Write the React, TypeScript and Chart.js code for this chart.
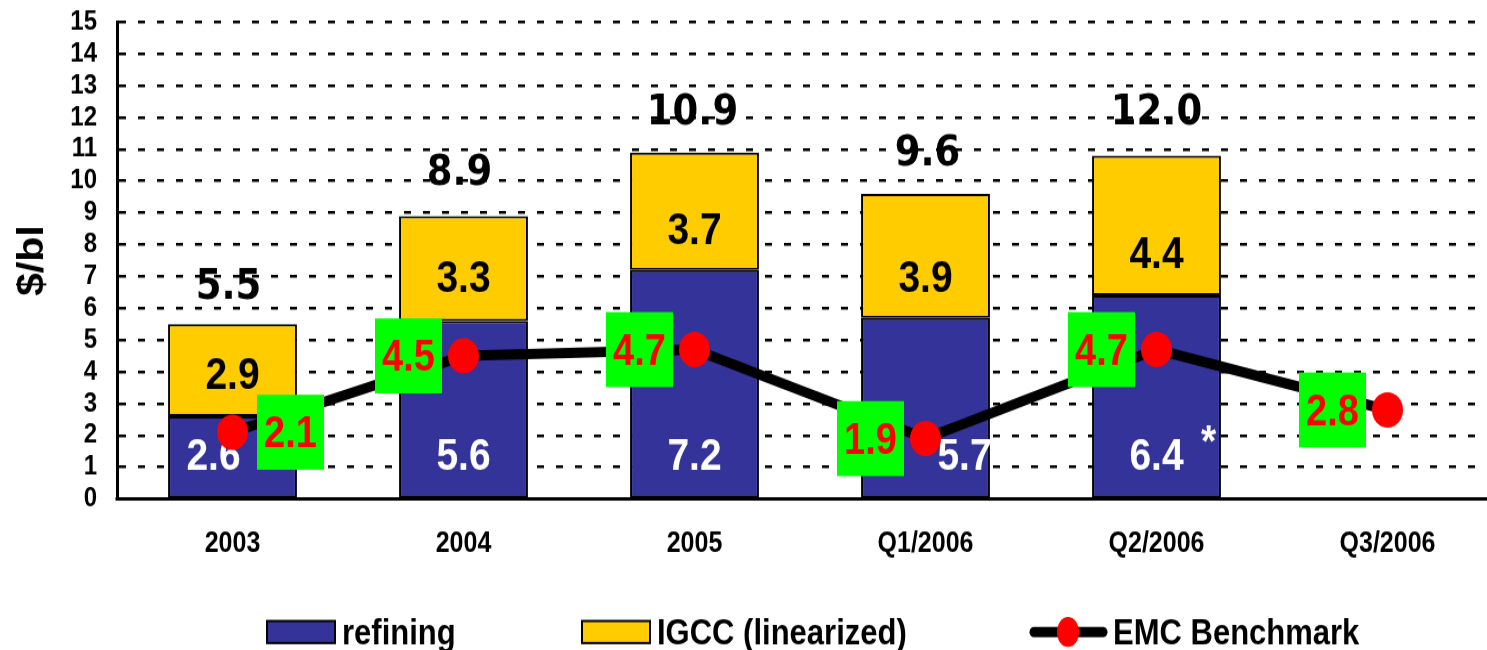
import React, { useEffect, useRef } from 'react';
import { Chart, registerables } from 'chart.js';

Chart.register(...registerables);

// ---------- data ----------
const categories = ['2003', '2004', '2005', 'Q1/2006', 'Q2/2006', 'Q3/2006'];
const refining: (number | null)[] = [2.6, 5.6, 7.2, 5.7, 6.4, null];
const igcc: (number | null)[] = [2.9, 3.3, 3.7, 3.9, 4.4, null];
const emcBenchmark = [2.1, 4.5, 4.7, 1.9, 4.7, 2.8];
const totalLabels = ['5.5', '8.9', '10.9', '9.6', '12.0'];
const seriesNames = ['refining', 'IGCC (linearized)', 'EMC Benchmark'];
const yAxisTitle = '$/bl';
const yMin = 0;
const yMax = 15;
const footnoteMark = '*';

// ---------- layout / style ----------
// The canvas is drawn at a reduced height and stretched vertically by S,
// matching the vertically stretched look of the reference.
const W = 1503;
const H = 650;
const HC = 570;
const S = H / HC;
const BLUE = '#333399';
const YELLOW = '#FFCC00';
const GREEN = '#00FF00';
const RED = '#FF0000';
const FONT = '"Liberation Sans", Arial, sans-serif';
const TOTAL_FONT = '"DejaVu Sans", Verdana, sans-serif';

const refLabelDx = [-19, 0, 0, 39, 0];
const refLabelBaselineValue = 0.9;
const igccLabelBaselineValue = [3.46, 6.5, 8.0, 6.5, 7.26];
const totalDy = [25, 31, 28, 28, 31];
const totalDx = [-4, -4, -2, 2, 0];
const emcBoxDx = [58, -55, -55, -55, -55, -55];

const labelsPlugin = {
  id: 'customLabels',
  beforeDatasetDraw(chart: any, args: any) {
    if (args.index !== 2) return;
    const ctx = chart.ctx;
    const y = chart.scales.y;
    const m0 = chart.getDatasetMeta(0);
    const m1 = chart.getDatasetMeta(1);
    const area = chart.chartArea;
    ctx.save();
    ctx.beginPath();
    ctx.lineWidth = 3;
    ctx.strokeStyle = '#000';
    ctx.moveTo(area.left - 1.5, area.bottom);
    ctx.lineTo(chart.width, area.bottom);
    ctx.stroke();

    ctx.textAlign = 'center';
    ctx.textBaseline = 'alphabetic';
    ctx.font = `bold 39px ${FONT}`;
    refining.forEach((v, i) => {
      if (v == null) return;
      const bar = m0.data[i];
      ctx.fillStyle = '#FFFFFF';
      ctx.fillText(v.toFixed(1), bar.x + refLabelDx[i], y.getPixelForValue(refLabelBaselineValue));
    });
    igcc.forEach((v, i) => {
      if (v == null) return;
      const bar = m1.data[i];
      ctx.fillStyle = '#000000';
      ctx.fillText(v.toFixed(1), bar.x, y.getPixelForValue(igccLabelBaselineValue[i]));
    });
    const b4 = m0.data[4];
    ctx.fillStyle = '#FFFFFF';
    ctx.fillText(footnoteMark, b4.x + 52, y.getPixelForValue(refLabelBaselineValue) - 14 / S);
    ctx.restore();
  },
  afterDatasetsDraw(chart: any) {
    const ctx = chart.ctx;
    const m1 = chart.getDatasetMeta(1);
    const m2 = chart.getDatasetMeta(2);
    ctx.save();
    ctx.textAlign = 'center';
    ctx.textBaseline = 'alphabetic';
    ctx.font = `bold 37px ${TOTAL_FONT}`;
    ctx.fillStyle = '#000000';
    totalLabels.forEach((t, i) => {
      const bar = m1.data[i];
      ctx.fillText(t, bar.x + totalDx[i], bar.y - totalDy[i] / S);
    });
    ctx.font = `bold 38px ${FONT}`;
    const bw = 67;
    const bh = 75 / S;
    emcBenchmark.forEach((v, i) => {
      const pt = m2.data[i];
      const cx = pt.x + emcBoxDx[i];
      const cy = pt.y;
      ctx.fillStyle = GREEN;
      ctx.fillRect(cx - bw / 2, cy - bh / 2, bw, bh);
      ctx.fillStyle = RED;
      ctx.fillText(v.toFixed(1), cx, cy + 15 / S);
    });
    ctx.restore();
  },
  afterDraw(chart: any) {
    const ctx = chart.ctx;
    ctx.save();
    ctx.font = `bold 31px ${FONT}`;
    ctx.textAlign = 'left';
    ctx.textBaseline = 'alphabetic';
    const ly = 632 / S;
    const boxTop = 621 / S;
    const boxH = 22 / S;
    const base = 644 / S;
    ctx.lineWidth = 2;
    ctx.strokeStyle = '#000';
    ctx.fillStyle = BLUE;
    ctx.fillRect(267, boxTop, 68, boxH);
    ctx.strokeRect(267, boxTop, 68, boxH);
    ctx.fillStyle = '#000';
    ctx.fillText(seriesNames[0], 342, base);
    ctx.fillStyle = YELLOW;
    ctx.fillRect(582, boxTop, 68, boxH);
    ctx.strokeRect(582, boxTop, 68, boxH);
    ctx.fillStyle = '#000';
    ctx.fillText(seriesNames[1], 657, base);
    ctx.beginPath();
    ctx.lineWidth = 9;
    ctx.lineCap = 'round';
    ctx.moveTo(1034, ly);
    ctx.lineTo(1103, ly);
    ctx.stroke();
    ctx.beginPath();
    ctx.fillStyle = RED;
    ctx.ellipse(1068, ly, 11, 15 / S, 0, 0, Math.PI * 2);
    ctx.fill();
    ctx.fillStyle = '#000';
    ctx.fillText(seriesNames[2], 1113, base);
    ctx.restore();
  },
};

export default function App() {
  const ref = useRef<HTMLCanvasElement>(null);
  useEffect(() => {
    if (!ref.current) return;
    const chart = new Chart(ref.current, {
      type: 'bar',
      data: {
        labels: categories,
        datasets: [
          {
            type: 'bar',
            label: seriesNames[0],
            data: refining,
            backgroundColor: BLUE,
            borderColor: '#000',
            borderWidth: 2,
            borderSkipped: false,
            stack: 's',
            order: 2,
            categoryPercentage: 1,
            barPercentage: 0.558,
          } as any,
          {
            type: 'bar',
            label: seriesNames[1],
            data: igcc,
            backgroundColor: YELLOW,
            borderColor: '#000',
            borderWidth: 2,
            borderSkipped: false,
            stack: 's',
            order: 2,
            categoryPercentage: 1,
            barPercentage: 0.558,
          } as any,
          {
            type: 'line',
            label: seriesNames[2],
            data: emcBenchmark,
            borderColor: '#000',
            borderWidth: 9,
            pointRadius: 15.5,
            pointBackgroundColor: RED,
            pointBorderWidth: 0,
            pointBorderColor: RED,
            tension: 0,
            order: 1,
          } as any,
        ],
      },
      options: {
        responsive: false,
        animation: false,
        events: [],
        layout: { autoPadding: false, padding: { top: 22 / S, left: 0, right: 0, bottom: 0 } },
        plugins: {
          legend: { display: false },
          tooltip: { enabled: false },
        },
        scales: {
          x: {
            stacked: true,
            offset: true,
            grid: { display: false, drawTicks: false },
            border: { display: true, color: '#000', width: 3 },
            ticks: {
              color: '#000',
              font: { family: FONT, size: 25, weight: 'bold' },
              padding: 25,
              maxRotation: 0,
              autoSkip: false,
            },
            afterFit: (s: any) => {
              s.height = HC - 499 / S;
              s.paddingLeft = 0;
              s.paddingRight = 0;
            },
          },
          y: {
            stacked: true,
            min: yMin,
            max: yMax,
            grid: { color: '#000', lineWidth: 2.6, drawTicks: false },
            border: { display: true, color: '#000', width: 3, dash: [7, 12] },
            ticks: {
              stepSize: 1,
              autoSkip: false,
              color: '#000',
              font: { family: FONT, size: 24, weight: 'bold' },
              padding: 20,
            },
            title: {
              display: true,
              text: yAxisTitle,
              color: '#000',
              font: { family: FONT, size: 36, weight: 'bold' },
              padding: { top: 11, bottom: 0 },
            },
            afterFit: (s: any) => {
              s.width = 117;
              s.paddingTop = 0;
              s.paddingBottom = 0;
            },
          },
        },
      } as any,
      plugins: [labelsPlugin],
    });
    return () => chart.destroy();
  }, []);
  return (
    <div
      style={{
        position: 'fixed',
        left: 0,
        top: 0,
        width: 1487,
        height: 650,
        overflow: 'hidden',
        background: '#fff',
      }}
    >
      <canvas ref={ref} width={W} height={HC} style={{ display: 'block', width: W, height: H }} />
    </div>
  );
}
